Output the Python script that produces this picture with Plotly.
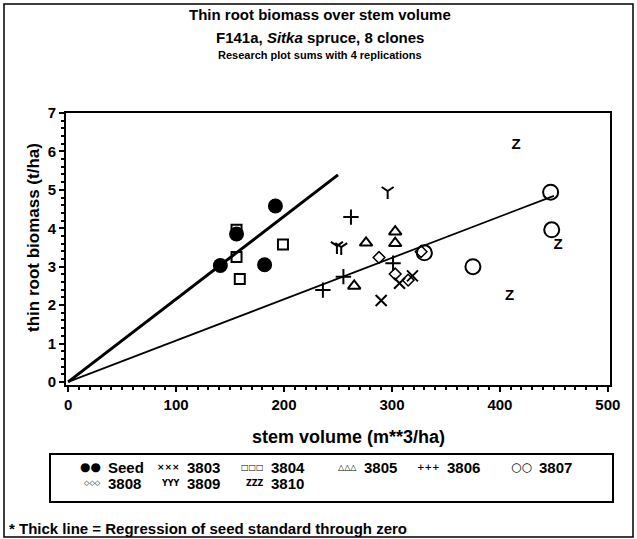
import plotly.graph_objects as go

# ---------------- data ----------------
seed_x = [141, 156, 192, 182]
seed_y = [3.03, 3.85, 4.58, 3.05]

c3803_x = [290, 307, 319]
c3803_y = [2.12, 2.57, 2.76]
c3804_x = [156, 159, 199, 156]
c3804_y = [3.25, 2.68, 3.58, 3.96]
c3805_x = [276, 303, 303, 265]
c3805_y = [3.62, 3.91, 3.61, 2.50]
c3806_x = [262, 301, 255, 236]
c3806_y = [4.29, 3.09, 2.74, 2.39]
c3807_x = [447, 448, 330, 375]
c3807_y = [4.94, 3.96, 3.36, 3.00]
c3808_x = [288, 303, 315, 327]
c3808_y = [3.24, 2.81, 2.65, 3.39]
c3809_x = [296, 249, 253]
c3809_y = [4.97, 3.54, 3.51]
c3810_x = [415, 409, 454]
c3810_y = [6.17, 2.22, 3.56]

series_names = ["Seed", "3803", "3804", "3805", "3806", "3807", "3808", "3809", "3810"]
series_x = [seed_x, c3803_x, c3804_x, c3805_x, c3806_x, c3807_x, c3808_x, c3809_x, c3810_x]
series_y = [seed_y, c3803_y, c3804_y, c3805_y, c3806_y, c3807_y, c3808_y, c3809_y, c3810_y]

x_ticks = [0, 100, 200, 300, 400, 500]
y_ticks = [0, 1, 2, 3, 4, 5, 6, 7]

SEED_LINE_END = 250
CLONE_LINE_END = 450

# ---------------- styles ----------------
FONT = "Arial, Liberation Sans, sans-serif"
styles = {
    "Seed": dict(kind="m", symbol="circle", size=15, lw=0),
    "3803": dict(kind="m", symbol="x-thin", size=11, lw=2),
    "3804": dict(kind="m", symbol="square-open", size=10, lw=2),
    "3805": dict(kind="m", symbol="triangle-up-open", size=11, lw=2),
    "3806": dict(kind="m", symbol="cross-thin", size=11, lw=2),
    "3807": dict(kind="m", symbol="circle-open", size=15, lw=2),
    "3808": dict(kind="m", symbol="diamond-open", size=9, lw=1.5),
    "3809": dict(kind="m", symbol="y-down", size=10, lw=2),
    "3810": dict(kind="t", text="Z", size=15),
}
legend_glyph = {
    "Seed": ("●●", 12), "3803": ("×××", 9), "3804": ("□□□", 8),
    "3805": ("△△△", 8), "3806": ("+++", 9), "3807": ("○○", 12),
    "3808": ("◇◇◇", 7), "3809": ("YYY", 8), "3810": ("ZZZ", 8),
}

# ---------------- geometry ----------------
W, H = 637, 539
ML, MT, PW, PH = 66, 113, 544, 272
MR, MB = W - ML - PW, H - MT - PH


def pxx(px):
    return (px - ML) / PW


def pxy(py):
    return (MT + PH - py) / PH


fig = go.Figure()


# regressions through zero
def slope0(xs, ys):
    return sum(a * b for a, b in zip(xs, ys)) / sum(a * a for a in xs)


seed_slope = slope0(seed_x, seed_y)
clone_x = [v for xs in series_x[1:] for v in xs]
clone_y = [v for ys in series_y[1:] for v in ys]
clone_slope = slope0(clone_x, clone_y)

fig.add_trace(go.Scatter(x=[0, SEED_LINE_END], y=[0, seed_slope * SEED_LINE_END],
                         mode="lines", line=dict(color="black", width=3),
                         showlegend=False, hoverinfo="skip"))
fig.add_trace(go.Scatter(x=[0, CLONE_LINE_END], y=[0, clone_slope * CLONE_LINE_END],
                         mode="lines", line=dict(color="black", width=1.8),
                         showlegend=False, hoverinfo="skip"))

for name, xs, ys in zip(series_names, series_x, series_y):
    st = styles[name]
    if st["kind"] == "m":
        fig.add_trace(go.Scatter(
            x=xs, y=ys, mode="markers", name=name, showlegend=False,
            marker=dict(symbol=st["symbol"], size=st["size"], color="black",
                        line=dict(color="black", width=st["lw"]))))
    else:
        fig.add_trace(go.Scatter(
            x=xs, y=ys, mode="text", name=name, showlegend=False,
            text=[st["text"]] * len(xs),
            textfont=dict(family=FONT, size=st["size"], color="black", weight="bold")))

ann = []
# titles
ann.append(dict(text="Thin root biomass over stem volume", x=pxx(320), y=pxy(15),
                font=dict(size=15, weight="bold")))
ann.append(dict(text="F141a, <i>Sitka</i> spruce, 8 clones", x=pxx(320), y=pxy(37),
                font=dict(size=15, weight="bold")))
ann.append(dict(text="Research plot sums with 4 replications", x=pxx(320), y=pxy(55),
                font=dict(size=11, weight="bold")))
# axis titles
ann.append(dict(text="stem volume (m**3/ha)", x=pxx(348), y=pxy(437),
                font=dict(size=18, weight="bold")))
ann.append(dict(text="thin root biomass (t/ha)", x=pxx(33), y=pxy(238), textangle=-90,
                font=dict(size=17, weight="bold")))
# footnote
ann.append(dict(text="* Thick line = Regression of seed standard through zero",
                x=pxx(7), y=pxy(528), xanchor="left", font=dict(size=15, weight="bold")))

# legend built from series names
LEG_TEXT_X = [106, 185, 269, 362, 445, 537]
LEG_ROW_Y = [467, 483]
for i, name in enumerate(series_names):
    r, c = divmod(i, 6)
    tx, ty = LEG_TEXT_X[c], LEG_ROW_Y[r]
    g, gs = legend_glyph[name]
    ann.append(dict(text=g, x=pxx(tx - 3), y=pxy(ty), xanchor="right",
                    font=dict(size=gs, weight="bold", family="DejaVu Sans")))
    ann.append(dict(text=name, x=pxx(tx), y=pxy(ty), xanchor="left",
                    font=dict(size=15, weight="bold")))

for a in ann:
    a.setdefault("xanchor", "center")
    a.update(xref="paper", yref="paper", showarrow=False, yanchor="middle")
    f = a["font"]
    f.setdefault("family", FONT)
    f["color"] = "black"

shapes = [
    dict(type="rect", xref="paper", yref="paper", x0=pxx(50), x1=pxx(613),
         y0=pxy(502), y1=pxy(454), line=dict(color="black", width=2)),
    dict(type="rect", xref="paper", yref="paper", x0=pxx(4), x1=pxx(633),
         y0=pxy(537), y1=pxy(4), line=dict(color="black", width=1.5)),
]

axis_common = dict(showline=True, linecolor="black", linewidth=2, mirror=True,
                   showgrid=False, zeroline=False, ticks="outside", ticklen=5,
                   tickwidth=1.5, tickcolor="black",
                   tickfont=dict(family=FONT, size=15, color="black", weight="bold"))

fig.update_layout(
    width=W, height=H, margin=dict(l=ML, r=MR, t=MT, b=MB),
    paper_bgcolor="white", plot_bgcolor="white", showlegend=False,
    annotations=ann, shapes=shapes,
    xaxis=dict(range=[-2, 502], tickvals=x_ticks,
               minor=dict(ticks="outside", ticklen=3, dtick=10, tickcolor="black"),
               **axis_common),
    yaxis=dict(range=[-0.08, 7], tickvals=y_ticks,
               minor=dict(ticks="outside", ticklen=3, dtick=0.2, tickcolor="black"),
               **axis_common),
)

fig.write_html("out.html")
